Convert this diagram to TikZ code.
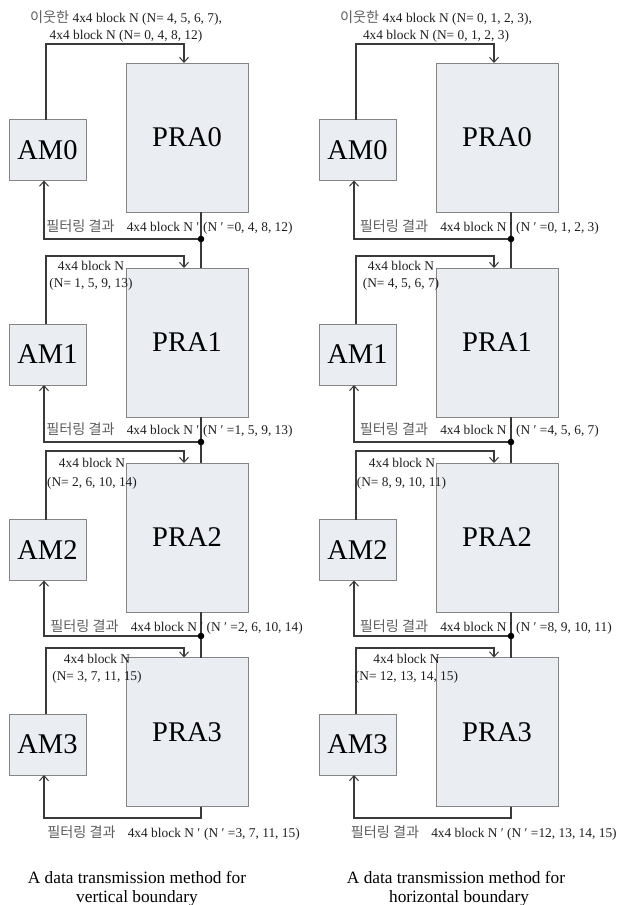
\documentclass[tikz,border=0pt]{standalone}
\usepackage{fontspec}
\setmainfont{Liberation Serif}
\newfontfamily\kr{Noto Sans CJK KR}
\usetikzlibrary{arrows.meta,calc}
\definecolor{boxfill}{HTML}{EAEEF2}
\definecolor{boxline}{HTML}{858585}
\definecolor{wirecol}{HTML}{3A3A3A}
\definecolor{txt}{HTML}{1E1E1E}
\definecolor{krtxt}{HTML}{5E5E5E}
\tikzset{
  blk/.style={draw=boxline, fill=boxfill, line width=1pt, inner sep=0pt, outer sep=0pt, text=black, font=\fontsize{28.5}{30}\selectfont},
  ambox/.style={blk, minimum width=77pt, minimum height=61pt},
  prabox/.style={blk, minimum width=122pt, minimum height=149pt},
  wire/.style={draw=wirecol, line width=1.3pt},
  tip/.style={-{Straight Barb[length=5pt,width=9pt,line width=1pt]}},
  lbl/.style={inner sep=0pt, anchor=base, text=txt, font=\fontsize{13.4}{17}\selectfont},
  captxt/.style={inner sep=0pt, anchor=base, text=black, font=\fontsize{17.3}{19.5}\selectfont},
  jdot/.style={fill=black},
}
\newcommand\kor[1]{{\kr\fontsize{14.2}{17}\selectfont\color{krtxt}#1}}
\begin{document}
\begin{tikzpicture}[x=1pt,y=-1pt]
\useasboundingbox (0,0) rectangle (618,905);
\foreach \pn/\dx in {L/0,R/310}{
  \foreach \i/\amc/\prc in {0/150/137.5, 1/354.5/342.5, 2/550/537.5, 3/744.5/732}{
    \node[ambox] (\pn-AM\i) at ({\dx+47.5},\amc) {AM\i};
    \node[prabox] (\pn-PRA\i) at ({\dx+187},\prc) {PRA\i};
  }
  \foreach \i/\ty in {0/44,1/256,2/451,3/648}{
    \coordinate (\pn-a\i) at ({\dx+46},\ty);
    \coordinate (\pn-b\i) at ({\dx+184},\ty);
    \draw[wire,tip] (\pn-AM\i.north -| \pn-a\i) -- (\pn-a\i) -- (\pn-b\i) -- (\pn-PRA\i.north -| \pn-b\i);
  }
  \foreach \i/\dy in {0/239,1/442,2/636,3/818}{
    \coordinate (\pn-d\i) at ({\dx+201},\dy);
    \coordinate (\pn-e\i) at ({\dx+44},\dy);
    \draw[wire,tip] (\pn-PRA\i.south -| \pn-d\i) -- (\pn-d\i) -- (\pn-e\i) -- (\pn-AM\i.south -| \pn-e\i);
  }
  \foreach \i/\j in {0/1,1/2,2/3}{
    \draw[wire] (\pn-d\i) -- (\pn-PRA\j.north -| \pn-d\i);
    \fill[jdot] (\pn-d\i) circle (3.3);
  }
}
% left panel texts
\node[lbl] (L-t0a) at (126,22.5) {\kor{이웃한} 4x4 block N (N= 4, 5, 6, 7),};
\node[lbl] (L-t0b) at (126,39.5) {4x4 block N (N= 0, 4, 8, 12)};
\node[lbl] (L-t1a) at (91,270.5) {4x4 block N};
\node[lbl] (L-t1b) at (91,287.5) {(N= 1, 5, 9, 13)};
\node[lbl] (L-t2a) at (92,467.5) {4x4 block N};
\node[lbl] (L-t2b) at (92,486) {(N= 2, 6, 10, 14)};
\node[lbl] (L-t3a) at (97,663.5) {4x4 block N};
\node[lbl] (L-t3b) at (97,680.5) {(N= 3, 7, 11, 15)};
\node[lbl, anchor=base east] (L-f0a) at (199.5,231.5) {\kor{필터링 결과}\hspace{12pt}4x4 block N ′};
\node[lbl, anchor=base west] (L-f0b) at (203,231.5) {(N ′ =0, 4, 8, 12)};
\node[lbl, anchor=base east] (L-f1a) at (199.5,434.5) {\kor{필터링 결과}\hspace{12pt}4x4 block N ′};
\node[lbl, anchor=base west] (L-f1b) at (203,434.5) {(N ′ =1, 5, 9, 13)};
\node[lbl, anchor=base east] (L-f2a) at (203.5,631.5) {\kor{필터링 결과}\hspace{12pt}4x4 block N ′};
\node[lbl, anchor=base west] (L-f2b) at (206.5,631.5) {(N ′ =2, 6, 10, 14)};
\node[lbl, anchor=base east] (L-f3a) at (200.5,837.5) {\kor{필터링 결과}\hspace{12pt}4x4 block N ′};
\node[lbl, anchor=base west] (L-f3b) at (204,837.5) {(N ′ =3, 7, 11, 15)};
\node[captxt] (L-c1) at (137,883) {A data transmission method for};
\node[captxt] (L-c2) at (137,902.5) {vertical boundary};
% right panel texts
\node[lbl] (R-t0a) at (436,22.5) {\kor{이웃한} 4x4 block N (N= 0, 1, 2, 3),};
\node[lbl] (R-t0b) at (436,39.5) {4x4 block N (N= 0, 1, 2, 3)};
\node[lbl] (R-t1a) at (401,270.5) {4x4 block N};
\node[lbl] (R-t1b) at (401,287.5) {(N= 4, 5, 6, 7)};
\node[lbl] (R-t2a) at (402,467.5) {4x4 block N};
\node[lbl] (R-t2b) at (401.5,486) {(N= 8, 9, 10, 11)};
\node[lbl] (R-t3a) at (406.5,663.5) {4x4 block N};
\node[lbl] (R-t3b) at (406.5,680.5) {(N= 12, 13, 14, 15)};
\node[lbl, anchor=base east] (R-f0a) at (513,231.5) {\kor{필터링 결과}\hspace{12pt}4x4 block N ′};
\node[lbl, anchor=base west] (R-f0b) at (516,231.5) {(N ′ =0, 1, 2, 3)};
\node[lbl, anchor=base east] (R-f1a) at (513,434.5) {\kor{필터링 결과}\hspace{12pt}4x4 block N ′};
\node[lbl, anchor=base west] (R-f1b) at (516,434.5) {(N ′ =4, 5, 6, 7)};
\node[lbl, anchor=base east] (R-f2a) at (513,631.5) {\kor{필터링 결과}\hspace{12pt}4x4 block N ′};
\node[lbl, anchor=base west] (R-f2b) at (516,631.5) {(N ′ =8, 9, 10, 11)};
\node[lbl, anchor=base east] (R-f3a) at (504,837.5) {\kor{필터링 결과}\hspace{12pt}4x4 block N ′};
\node[lbl, anchor=base west] (R-f3b) at (507,837.5) {(N ′ =12, 13, 14, 15)};
\node[captxt] (R-c1) at (456,883) {A data transmission method for};
\node[captxt] (R-c2) at (459,902.5) {horizontal boundary};
\end{tikzpicture}
\end{document}
